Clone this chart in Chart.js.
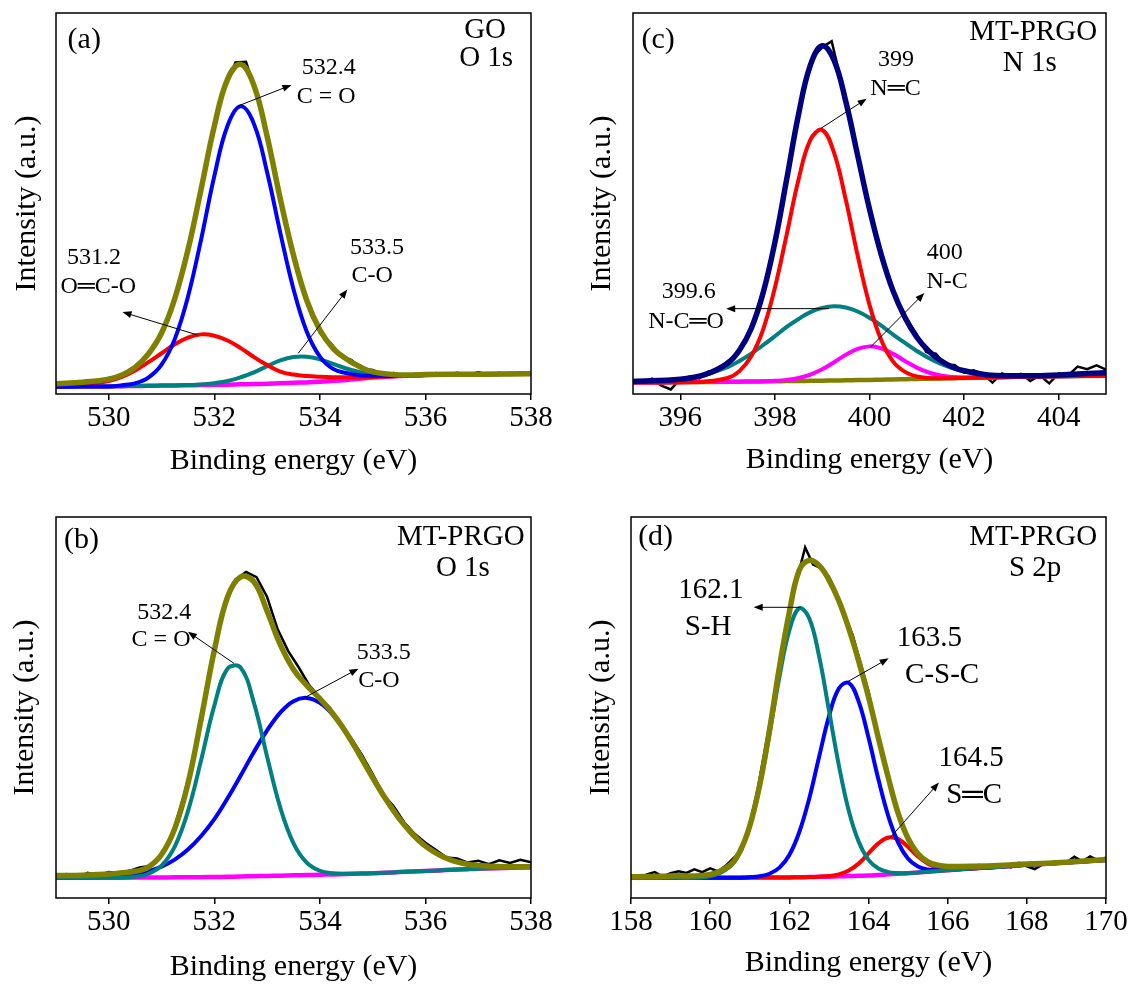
<!DOCTYPE html>
<html>
<head>
<meta charset="utf-8">
<title>XPS spectra</title>
<script src="https://cdn.jsdelivr.net/npm/chart.js@4.4.0/dist/chart.umd.min.js"></script>
<style>
  body { margin: 0; background: #fff; width: 1133px; height: 985px; position: relative; overflow: hidden; }
  canvas { position: absolute; }
</style>
</head>
<body>
<canvas id="chA" width="566" height="490" style="left:0;top:0"></canvas>
<canvas id="chC" width="567" height="490" style="left:566px;top:0"></canvas>
<canvas id="chB" width="566" height="495" style="left:0;top:490px"></canvas>
<canvas id="chD" width="567" height="495" style="left:566px;top:490px"></canvas>
<script>
// ---- (a) GO, O 1s ----
const energyA = [529, 529.5, 530, 530.25, 530.5, 530.75, 531, 531.25, 531.5, 531.75, 532, 532.25, 532.5, 532.75, 533, 533.25, 533.5, 533.75, 534, 534.25, 534.5, 534.75, 535, 535.5, 536, 537, 538];
const baseA = [1.9, 1.95, 2.0, 2.05, 2.1, 2.15, 2.2, 2.25, 2.3, 2.35, 2.4, 2.45, 2.55, 2.6, 2.7, 2.8, 2.95, 3.05, 3.2, 3.45, 3.7, 4.0, 4.3, 4.7, 5.0, 5.2, 5.3];
const blueA = [1.9, 1.95, 2.0, 2.3, 2.8, 4.3, 7.7, 14.4, 25.5, 40.6, 57.2, 70.4, 75.5, 70.9, 58.2, 42.3, 27.5, 16.4, 9.8, 6.6, 5.5, 4.9, 4.7, 4.8, 5.0, 5.2, 5.3];
const redA = [1.95, 2.3, 3.4, 4.5, 6.2, 8.35, 10.7, 13.05, 14.8, 15.65, 15.3, 14.05, 12.05, 9.7, 7.6, 5.9, 5.1, 4.7, 4.5, 4.4, 4.4, 4.4, 4.45, 4.7, 5.0, 5.2, 5.3];
const tealA = [1.9, 1.95, 2.0, 2.05, 2.1, 2.15, 2.2, 2.25, 2.35, 2.5, 2.85, 3.4, 4.4, 5.7, 7.3, 8.8, 9.7, 9.8, 9.1, 7.9, 6.7, 5.8, 5.1, 4.8, 5.0, 5.2, 5.3];
const fitA = [2.7, 3.1, 3.9, 5.0, 7.0, 10.5, 16.0, 25.0, 37.8, 53.8, 70.3, 82.6, 86.5, 81.0, 67.6, 51.2, 36.4, 24.6, 16.8, 12.0, 9.2, 7.2, 5.8, 5.0, 5.1, 5.2, 5.3];
const rawEnergyA = [529.0, 529.2, 529.4, 529.6, 529.8, 530.0, 530.2, 530.4, 530.6, 530.8, 531.0, 531.2, 531.4, 531.6, 531.8, 532.0, 532.2, 532.4, 532.6, 532.8, 533.0, 533.2, 533.4, 533.6, 533.8, 534.0, 534.2, 534.4, 534.6, 534.8, 535.0, 535.2, 535.4, 535.6, 535.8, 536.0, 536.2, 536.4, 536.6, 536.8, 537.0, 537.2, 537.4, 537.6, 537.8, 538.0];
const rawA = [2.9, 3.0, 2.7, 3.6, 3.3, 4.2, 4.4, 6.5, 7.8, 11.8, 15.6, 23.6, 32.4, 44.8, 56.5, 71.2, 80.2, 87.0, 87.2, 78.6, 68.0, 53.6, 42.5, 30.4, 23.1, 16.0, 13.4, 10.0, 8.9, 6.6, 6.3, 5.1, 5.5, 4.6, 5.3, 4.8, 5.5, 4.9, 5.6, 5.0, 5.7, 5.1, 5.6, 5.0, 5.7, 5.2];
const ticksA = [530, 532, 534, 536, 538];

// ---- (c) MT-PRGO, N 1s ----
const energyC = [395, 396, 396.5, 397, 397.25, 397.5, 397.75, 398, 398.25, 398.5, 398.75, 399, 399.25, 399.5, 399.75, 400, 400.25, 400.5, 400.75, 401, 401.25, 401.5, 401.75, 402, 402.5, 403, 403.5, 404, 405];
const baseC = [3.0, 3.1, 3.15, 3.2, 3.24, 3.27, 3.31, 3.35, 3.39, 3.42, 3.46, 3.5, 3.55, 3.6, 3.65, 3.7, 3.76, 3.83, 3.89, 3.95, 4.01, 4.08, 4.14, 4.2, 4.33, 4.45, 4.55, 4.65, 4.8];
const redC = [3.0, 3.1, 3.24, 4.2, 6.0, 9.9, 16.9, 27.9, 41.9, 56.3, 66.7, 69.3, 63.35, 50.9, 36.35, 23.4, 14.1, 8.5, 5.8, 4.6, 4.2, 4.13, 4.14, 4.2, 4.33, 4.45, 4.55, 4.65, 4.8];
const tealC = [3.06, 3.77, 4.89, 7.07, 8.67, 10.6, 12.8, 15.15, 17.6, 19.7, 21.5, 22.6, 23.05, 22.7, 21.65, 20.0, 17.96, 15.6, 13.4, 11.3, 9.44, 7.95, 6.79, 5.94, 5.0, 4.67, 4.61, 4.65, 4.8];
const magC = [3.0, 3.1, 3.15, 3.2, 3.24, 3.28, 3.35, 3.47, 3.71, 4.19, 5.09, 6.48, 8.34, 10.3, 11.85, 12.5, 11.96, 10.53, 8.68, 6.93, 5.64, 4.85, 4.46, 4.32, 4.33, 4.45, 4.55, 4.65, 4.8];
const fitC = [3.3, 3.9, 5.0, 8.1, 11.5, 17.2, 26.5, 39.8, 56.4, 73.4, 86.3, 91.4, 87.6, 76.7, 62.6, 48.5, 36.5, 27.0, 20.1, 14.9, 11.3, 8.8, 7.1, 6.1, 5.0, 4.8, 4.8, 5.0, 5.6];
const rawEnergyC = [395.0, 395.2, 395.4, 395.6, 395.8, 396.0, 396.2, 396.4, 396.6, 396.8, 397.0, 397.2, 397.4, 397.6, 397.8, 398.0, 398.2, 398.4, 398.6, 398.8, 399.0, 399.2, 399.4, 399.6, 399.8, 400.0, 400.2, 400.4, 400.6, 400.8, 401.0, 401.2, 401.4, 401.6, 401.8, 402.0, 402.2, 402.4, 402.6, 402.8, 403.0, 403.2, 403.4, 403.6, 403.8, 404.0, 404.2, 404.4, 404.6, 404.8, 405.0];
const rawC = [3.4, 3.0, 4.0, 2.2, 1.2, 3.9, 4.6, 4.1, 5.9, 6.2, 8.6, 10.5, 14.4, 20.6, 29.6, 39.2, 53.7, 67.2, 80.0, 88.3, 91.0, 92.6, 82.2, 70.5, 59.4, 48.9, 38.3, 30.2, 23.9, 19.5, 15.6, 11.0, 10.6, 7.7, 7.6, 5.6, 6.2, 5.2, 3.0, 5.4, 4.6, 5.3, 3.4, 4.9, 2.8, 5.4, 4.9, 7.2, 6.5, 7.5, 6.4];
const ticksC = [396, 398, 400, 402, 404];

// ---- (b) MT-PRGO, O 1s ----
const energyB = [529, 529.5, 530, 530.5, 530.75, 531, 531.25, 531.5, 531.75, 532, 532.25, 532.5, 532.75, 533, 533.25, 533.5, 533.75, 534, 534.25, 534.5, 534.75, 535, 535.25, 535.5, 535.75, 536, 536.25, 536.5, 536.75, 537, 537.5, 538];
const baseB = [5.3, 5.3, 5.3, 5.35, 5.37, 5.4, 5.42, 5.45, 5.47, 5.5, 5.57, 5.65, 5.72, 5.8, 5.87, 5.95, 6.02, 6.1, 6.2, 6.3, 6.4, 6.5, 6.65, 6.8, 6.95, 7.1, 7.25, 7.4, 7.55, 7.7, 7.9, 8.1];
const tealB = [5.3, 5.3, 5.31, 5.61, 6.37, 8.5, 13.5, 22.75, 36.2, 50.5, 60.2, 60.45, 51.2, 37.1, 23.7, 14.35, 9.3, 7.15, 6.5, 6.36, 6.4, 6.5, 6.65, 6.8, 6.95, 7.1, 7.25, 7.4, 7.55, 7.7, 7.9, 8.1];
const blueB = [5.31, 5.36, 5.55, 6.28, 7.03, 8.25, 10.07, 12.7, 16.27, 20.7, 26.17, 32.15, 38.32, 44.0, 48.67, 51.65, 52.52, 51.2, 48.0, 43.3, 37.6, 31.6, 25.85, 20.9, 16.75, 13.6, 11.4, 9.9, 9.0, 8.5, 8.1, 8.15];
const fitB = [5.9, 6.0, 6.3, 7.0, 8.1, 11.4, 18.2, 30.0, 47.0, 65.0, 79.0, 84.3, 83.0, 75.3, 66.5, 60.0, 55.8, 52.3, 48.3, 43.4, 37.6, 31.6, 25.9, 20.9, 16.8, 13.6, 11.4, 9.9, 9.0, 8.5, 8.2, 8.2];
const rawEnergyB = rawEnergyA;
const rawB = [5.4, 6.3, 5.2, 6.6, 5.9, 6.8, 6.4, 7.2, 8.1, 8.4, 11.6, 16.5, 25.8, 36.4, 50.2, 65.5, 76.6, 83.5, 85.6, 84.2, 79.0, 70.5, 64.8, 60.5, 55.8, 52.6, 49.8, 45.0, 41.8, 37.5, 32.5, 27.2, 24.0, 19.8, 16.8, 14.5, 12.6, 10.6, 10.4, 9.3, 9.8, 8.9, 9.9, 9.2, 10.0, 9.4];
const ticksB = [530, 532, 534, 536, 538];

// ---- (d) MT-PRGO, S 2p ----
const energyD = [158, 159, 160, 160.5, 160.75, 161, 161.25, 161.5, 161.75, 162, 162.25, 162.5, 162.75, 163, 163.25, 163.5, 163.75, 164, 164.25, 164.5, 164.75, 165, 165.25, 165.5, 165.75, 166, 167, 168, 169, 170];
const baseD = [5.3, 5.3, 5.3, 5.32, 5.34, 5.35, 5.36, 5.37, 5.38, 5.4, 5.45, 5.5, 5.55, 5.6, 5.68, 5.75, 5.82, 5.9, 6.05, 6.2, 6.35, 6.5, 6.7, 6.9, 7.1, 7.3, 8.0, 8.7, 9.3, 10.0];
const tealD = [5.3, 5.3, 5.69, 8.2, 12.0, 18.75, 29.3, 43.1, 58.0, 70.2, 76.05, 73.5, 63.55, 49.3, 34.9, 22.95, 14.8, 10.0, 7.75, 6.8, 6.55, 6.55, 6.7, 6.9, 7.1, 7.3, 8.0, 8.7, 9.3, 10.0];
const blueD = [5.3, 5.3, 5.3, 5.32, 5.34, 5.45, 5.7, 6.37, 7.98, 11.3, 17.25, 26.0, 36.95, 47.6, 54.98, 56.45, 51.62, 42.1, 31.15, 21.5, 14.55, 10.3, 8.26, 7.46, 7.28, 7.35, 8.0, 8.7, 9.3, 10.0];
const redD = [5.3, 5.3, 5.3, 5.32, 5.34, 5.35, 5.36, 5.37, 5.38, 5.4, 5.45, 5.5, 5.59, 5.76, 6.21, 7.21, 9.02, 11.7, 14.35, 15.9, 15.45, 13.4, 10.9, 9.0, 7.92, 7.56, 8.0, 8.7, 9.3, 10.0];
const fitD = [5.6, 5.8, 6.2, 8.6, 12.2, 18.9, 29.6, 44.1, 60.6, 75.0, 86.0, 88.6, 87.3, 83.5, 78.0, 70.8, 62.3, 52.8, 42.0, 31.6, 22.2, 15.6, 11.6, 9.5, 8.6, 8.3, 8.4, 8.9, 9.4, 10.1];
const rawEnergyD = [158.0, 158.2, 158.4, 158.6, 158.8, 159.0, 159.2, 159.4, 159.6, 159.8, 160.0, 160.2, 160.4, 160.6, 160.8, 161.0, 161.2, 161.4, 161.6, 161.8, 162.0, 162.2, 162.4, 162.6, 162.8, 163.0, 163.2, 163.4, 163.6, 163.8, 164.0, 164.2, 164.4, 164.6, 164.8, 165.0, 165.2, 165.4, 165.6, 165.8, 166.0, 166.2, 166.4, 166.6, 166.8, 167.0, 167.2, 167.4, 167.6, 167.8, 168.0, 168.2, 168.4, 168.6, 168.8, 169.0, 169.2, 169.4, 169.6, 169.8, 170.0];
const rawD = [5.8, 5.0, 6.2, 6.8, 5.6, 6.5, 7.0, 6.6, 7.5, 6.8, 7.8, 7.0, 8.5, 10.6, 12.4, 19.5, 28.5, 40.0, 51.5, 63.8, 75.5, 84.0, 92.0, 87.5, 86.6, 84.3, 79.8, 74.3, 69.0, 61.6, 54.2, 44.8, 36.5, 27.4, 20.0, 14.9, 12.0, 10.2, 9.0, 8.1, 8.6, 7.9, 8.3, 7.5, 8.7, 7.8, 7.9, 8.6, 8.0, 9.2, 8.3, 7.6, 8.8, 9.0, 9.1, 9.3, 10.8, 9.6, 10.9, 9.9, 10.6];
const ticksD = [158, 160, 162, 164, 166, 168, 170];

const FONT = "'Liberation Serif', 'Times New Roman', serif";
const OLIVE = '#808000', BLUE = '#0000ff', RED = '#ff0000', TEAL = '#008080', MAGENTA = '#ff00ff', NAVY = '#000080';

function arrow(ctx, x1, y1, x2, y2) {
  const a = Math.atan2(y2 - y1, x2 - x1), len = 9, half = 3.5;
  ctx.beginPath();
  ctx.moveTo(x1, y1);
  ctx.lineTo(x2 - Math.cos(a) * len * 0.7, y2 - Math.sin(a) * len * 0.7);
  ctx.stroke();
  ctx.beginPath();
  ctx.moveTo(x2, y2);
  ctx.lineTo(x2 - len * Math.cos(a) + half * Math.sin(a), y2 - len * Math.sin(a) - half * Math.cos(a));
  ctx.lineTo(x2 - len * Math.cos(a) - half * Math.sin(a), y2 - len * Math.sin(a) + half * Math.cos(a));
  ctx.closePath();
  ctx.fill();
}

// frame box + labels and arrows, positioned in data units
const notesPlugin = {
  id: 'notes',
  afterDraw(chart, args, opts) {
    const { ctx, chartArea: c, scales: { x, y } } = chart;
    ctx.save();
    ctx.strokeStyle = '#000';
    ctx.fillStyle = '#000';
    ctx.lineWidth = 1.5;
    ctx.strokeRect(c.left, c.top, c.right - c.left, c.bottom - c.top);
    ctx.lineWidth = 1;
    (opts.arrows || []).forEach(r => arrow(ctx, x.getPixelForValue(r[0]), y.getPixelForValue(r[1]), x.getPixelForValue(r[2]), y.getPixelForValue(r[3])));
    ctx.textBaseline = 'middle';
    (opts.texts || []).forEach(t => {
      ctx.font = t.size + 'px ' + FONT;
      ctx.textAlign = t.align || 'center';
      ctx.fillText(t.text, x.getPixelForValue(t.x), y.getPixelForValue(t.y));
    });
    ctx.restore();
  }
};

function line(xs, ys, color, width, raw) {
  return {
    data: xs.map((v, i) => ({ x: v, y: ys[i] })),
    borderColor: color, backgroundColor: color, borderWidth: width,
    showLine: true, pointRadius: 0, fill: false, tension: raw ? 0 : 0.4
  };
}

function panel(id, o) {
  return new Chart(document.getElementById(id), {
    type: 'scatter',
    data: { datasets: o.series },
    options: {
      responsive: false, animation: false, events: [],
      layout: { padding: { left: 0, top: o.top, right: o.right, bottom: 0 } },
      plugins: { legend: { display: false }, tooltip: { enabled: false }, notes: o.notes },
      scales: {
        x: {
          type: 'linear', min: o.min, max: o.max,
          afterBuildTicks: ax => { ax.ticks = o.ticks.map(v => ({ value: v })); },
          afterFit: s => { s.height = o.xh; },
          border: { display: false },
          grid: { drawOnChartArea: false, drawTicks: true, tickLength: 6, color: '#000', lineWidth: 1.5 },
          ticks: { color: '#000', font: { family: FONT, size: 29 }, padding: 1, maxRotation: 0, autoSkip: false },
          title: { display: true, text: 'Binding energy (eV)', color: '#000', font: { family: FONT, size: 30 }, padding: { top: 0, bottom: o.xpad } }
        },
        y: {
          min: 0, max: 100,
          afterFit: s => { s.width = o.yw; },
          border: { display: false },
          grid: { display: false },
          ticks: { display: false },
          title: { display: true, text: 'Intensity (a.u.)', color: '#000', font: { family: FONT, size: 30 }, padding: { top: o.ypad, bottom: 0 } }
        }
      }
    },
    plugins: [notesPlugin]
  });
}

panel('chA', {
  min: 529, max: 538, ticks: ticksA, top: 13, right: 35, yw: 56, xh: 96, ypad: 9, xpad: 11,
  series: [
    line(energyA, fitA, OLIVE, 5.5),
    line(energyA, blueA, BLUE, 4),
    line(energyA, redA, RED, 4),
    line(energyA, tealA, TEAL, 4),
    line(energyA, baseA, MAGENTA, 4.5),
    line(rawEnergyA, rawA, '#000', 2.5, true)
  ],
  notes: {
    texts: [
      { x: 529.22, y: 92.8, text: '(a)', size: 30, align: 'left' },
      { x: 537.13, y: 95.5, text: 'GO', size: 29 },
      { x: 537.15, y: 88.2, text: 'O 1s', size: 29 },
      { x: 534.17, y: 85.6, text: '532.4', size: 24 },
      { x: 534.12, y: 78.0, text: 'C = O', size: 24 },
      { x: 529.72, y: 35.7, text: '531.2', size: 24 },
      { x: 529.8, y: 28.1, text: 'O═C-O', size: 24 },
      { x: 535.08, y: 38.3, text: '533.5', size: 24 },
      { x: 534.99, y: 31.0, text: 'C-O', size: 24 }
    ],
    arrows: [
      [532.45, 75.6, 533.46, 81.1],
      [531.68, 15.5, 530.26, 21.5],
      [533.59, 10.7, 534.52, 27.4]
    ]
  }
});

panel('chC', {
  min: 395, max: 405, ticks: ticksC, top: 13, right: 27, yw: 67, xh: 96, ypad: 18, xpad: 12,
  series: [
    line(energyC, fitC, NAVY, 5.5),
    line(energyC, redC, RED, 4),
    line(energyC, tealC, TEAL, 4),
    line(energyC, magC, MAGENTA, 4),
    line(energyC, baseC, OLIVE, 4.5),
    line(rawEnergyC, rawC, '#000', 2.5, true)
  ],
  notes: {
    texts: [
      { x: 395.18, y: 92.9, text: '(c)', size: 30, align: 'left' },
      { x: 403.46, y: 95.0, text: 'MT-PRGO', size: 29 },
      { x: 403.39, y: 86.9, text: 'N 1s', size: 29 },
      { x: 400.56, y: 87.7, text: '399', size: 24 },
      { x: 400.55, y: 80.1, text: 'N═C', size: 24 },
      { x: 401.59, y: 37.0, text: '400', size: 24 },
      { x: 401.64, y: 29.4, text: 'N-C', size: 24 },
      { x: 396.18, y: 26.8, text: '399.6', size: 24 },
      { x: 396.12, y: 18.9, text: 'N-C═O', size: 24 }
    ],
    arrows: [
      [398.97, 69.7, 399.94, 77.5],
      [400.02, 12.3, 401.16, 26.5],
      [399.14, 22.4, 396.97, 22.4]
    ]
  }
});

panel('chB', {
  min: 529, max: 538, ticks: ticksB, top: 27, right: 35, yw: 56, xh: 87, ypad: 7, xpad: 0,
  series: [
    line(energyB, fitB, OLIVE, 5.5),
    line(energyB, tealB, TEAL, 4),
    line(energyB, blueB, BLUE, 4),
    line(energyB, baseB, MAGENTA, 4.5),
    line(rawEnergyB, rawB, '#000', 2.5, true)
  ],
  notes: {
    texts: [
      { x: 529.15, y: 94.0, text: '(b)', size: 30, align: 'left' },
      { x: 536.67, y: 94.75, text: 'MT-PRGO', size: 29 },
      { x: 536.71, y: 86.6, text: 'O 1s', size: 29 },
      { x: 531.05, y: 74.8, text: '532.4', size: 24 },
      { x: 530.99, y: 67.7, text: 'C = O', size: 24 },
      { x: 535.21, y: 64.3, text: '533.5', size: 24 },
      { x: 535.12, y: 57.0, text: 'C-O', size: 24 }
    ],
    arrows: [
      [532.37, 61.6, 531.5, 69.9],
      [533.71, 52.6, 534.73, 60.2]
    ]
  }
});

panel('chD', {
  min: 158, max: 170, ticks: ticksD, top: 27, right: 27, yw: 65, xh: 87, ypad: 17, xpad: 4,
  series: [
    line(energyD, fitD, OLIVE, 5.5),
    line(energyD, tealD, TEAL, 4),
    line(energyD, blueD, BLUE, 4),
    line(energyD, redD, RED, 4),
    line(energyD, baseD, MAGENTA, 4.5),
    line(rawEnergyD, rawD, '#000', 2.5, true)
  ],
  notes: {
    texts: [
      { x: 158.18, y: 94.75, text: '(d)', size: 30, align: 'left' },
      { x: 168.16, y: 94.75, text: 'MT-PRGO', size: 29 },
      { x: 168.21, y: 86.6, text: 'S 2p', size: 29 },
      { x: 160.02, y: 80.8, text: '162.1', size: 29 },
      { x: 159.95, y: 71.1, text: 'S-H', size: 29 },
      { x: 165.54, y: 68.2, text: '163.5', size: 29 },
      { x: 165.86, y: 58.5, text: 'C-S-C', size: 29 },
      { x: 166.59, y: 36.7, text: '164.5', size: 29 },
      { x: 166.67, y: 27.0, text: 'S═C', size: 29 }
    ],
    arrows: [
      [162.28, 76.3, 161.1, 76.3],
      [163.46, 56.7, 164.51, 62.9],
      [164.51, 15.4, 165.78, 30.3]
    ]
  }
});
</script>
</body>
</html>
